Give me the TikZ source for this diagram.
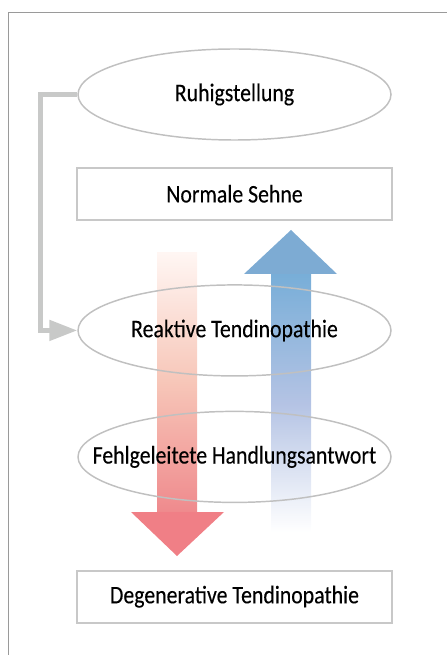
\documentclass[tikz,border=0pt]{standalone}
\usepackage{fontspec}
\setmainfont{Carlito}[FakeStretch=0.86, FakeBold=0.2]
\usepackage{xcolor}
\usetikzlibrary{arrows.meta,positioning,shapes.geometric}
\definecolor{framegray}{HTML}{9A9A9A}
\definecolor{linegray}{HTML}{C0C0C0}
\definecolor{boxgray}{HTML}{C8C8C8}
\definecolor{conngray}{HTML}{C8C9C8}
\definecolor{redtop}{HTML}{FFF6F3}
\definecolor{redmid}{HTML}{F7C6B8}
\definecolor{redbot}{HTML}{EF8A8D}
\definecolor{redhead}{HTML}{F07F86}
\definecolor{bluetop}{HTML}{78AED8}
\definecolor{bluemid}{HTML}{B4C3E4}
\definecolor{bluehead}{HTML}{7DABD3}

\begin{document}
\begin{tikzpicture}[
  x=0.75pt, y=-0.75pt,
  state/.style={ellipse, draw=linegray, line width=1.1pt, inner ysep=0pt, inner xsep=-30pt,
                minimum width=234.75pt, minimum height=68.25pt,
                font=\fontsize{19}{22}\selectfont},
  box/.style={draw=boxgray, line width=1.5pt, inner sep=0pt,
              minimum width=236.25pt, minimum height=39pt,
              font=\fontsize{19}{22}\selectfont},
  back/.style={-{Triangle[length=21pt, width=15pt]}, draw=conngray, line width=3.75pt}
]
\useasboundingbox (0,0) rectangle (446,655);
\draw[framegray, line width=0.75pt] (8,660) |- (450,13);
\shade[top color=redtop, bottom color=redbot, middle color=redmid] (157,253) rectangle (197,512);
\fill[redhead] (131,512) -- (224,512) -- (177,556) -- cycle;
\shade[top color=bluetop, bottom color=white, middle color=bluemid] (271,274) rectangle (311,532);
\fill[bluehead] (244,274) -- (337,274) -- (291,230) -- cycle;
\node[state] (ruhe) at (234.5,94.5) {Ruhigstellung};
\node[box, below=19.5pt of ruhe] (sehne) {Normale Sehne};
\node[state, below=47.6pt of sehne] (reaktiv) {Reaktive Tendinopathie};
\node[state, below=25.5pt of reaktiv] (fehl) {Fehlgeleitete Handlungsantwort};
\node[box, below=49.9pt of fehl] (degen) {Degenerative Tendinopathie};
\draw[back] (ruhe.west) -- ++(-36.5,0) |- (reaktiv.west);
\end{tikzpicture}
\end{document}
